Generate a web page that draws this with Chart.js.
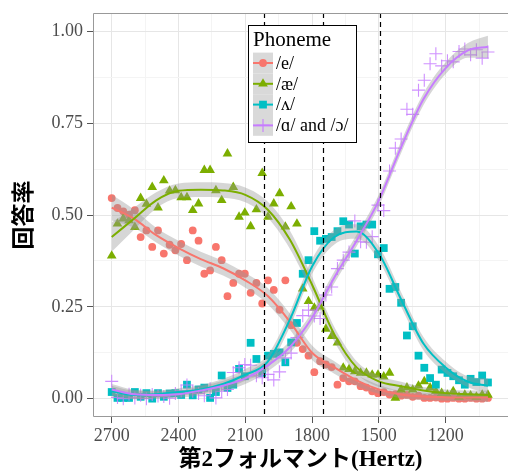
<!DOCTYPE html>
<html>
<head>
<meta charset="utf-8">
<script src="https://cdn.jsdelivr.net/npm/chart.js@4"></script>
<style>
  body { margin: 0; background: #fff; }
  #caja { width: 508px; height: 476px; }
</style>
</head>
<body>
<div id="caja"><canvas id="grafica" width="508" height="476"></canvas></div>
<script>
// estímulos: segundo formante (Hz)
const hz = [2700, 2674, 2648, 2622, 2596, 2570, 2544, 2518, 2492, 2466,
  2440, 2414, 2388, 2362, 2336, 2310, 2284, 2258, 2232, 2206,
  2180, 2154, 2128, 2102, 2076, 2050, 2024, 1998, 1972, 1946,
  1920, 1894, 1868, 1842, 1816, 1790, 1764, 1738, 1712, 1686,
  1660, 1634, 1608, 1582, 1556, 1530, 1504, 1478, 1452, 1426,
  1400, 1374, 1348, 1322, 1296, 1270, 1244, 1218, 1192, 1166,
  1140, 1114, 1088, 1062, 1036, 1010];

// proporción de respuestas por fonema
const respE = [0.546, 0.519, 0.510, 0.501, 0.513, 0.440, 0.458, 0.413, 0.458, 0.395,
  0.419, 0.404, 0.421, 0.377, 0.458, 0.430, 0.340, 0.349, 0.413, 0.377,
  0.279, 0.315, 0.340, 0.340, 0.288, 0.315, 0.259, 0.322, 0.296, 0.242,
  0.322, 0.200, 0.152, 0.135, 0.117, 0.072, 0.102, 0.093, 0.086, 0.038,
  0.056, 0.047, 0.047, 0.034, 0.030, 0.020, 0.015, 0.018, 0.011, 0.012,
  0.008, 0.010, 0.005, 0.008, 0.002, 0.002, 0.003, 0.000, 0.000, 0.002,
  0.000, 0.000, 0.002, 0.000, 0.000, 0.002];
const respAE = [0.389, 0.476, 0.490, 0.485, 0.467, 0.546, 0.530, 0.576, 0.520, 0.594,
  0.566, 0.567, 0.548, 0.548, 0.513, 0.531, 0.622, 0.622, 0.567, 0.540,
  0.667, 0.576, 0.495, 0.506, 0.469, 0.515, 0.614, 0.495, 0.531, 0.559,
  0.468, 0.523, 0.476, 0.299, 0.265, 0.247, 0.250, 0.190, 0.170, 0.152,
  0.084, 0.080, 0.074, 0.070, 0.070, 0.065, 0.065, 0.060, 0.070, 0.002,
  0.024, 0.030, 0.024, 0.035, 0.047, 0.030, 0.020, 0.015, 0.010, 0.020,
  0.005, 0.010, 0.008, 0.005, 0.010, 0.010];
const respV = [0.018, 0.002, 0.002, 0.002, 0.018, 0.005, 0.015, 0.000, 0.015, 0.005,
  0.014, 0.015, 0.010, 0.038, 0.009, 0.025, 0.030, 0.002, 0.018, 0.063,
  0.029, 0.038, 0.081, 0.061, 0.152, 0.108, 0.070, 0.117, 0.122, 0.126,
  0.099, 0.153, 0.206, 0.340, 0.377, 0.456, 0.430, 0.435, 0.440, 0.456,
  0.483, 0.474, 0.395, 0.469, 0.474, 0.474, 0.393, 0.410, 0.299, 0.304,
  0.261, 0.172, 0.197, 0.117, 0.084, 0.056, 0.038, 0.079, 0.070, 0.061,
  0.050, 0.038, 0.054, 0.045, 0.063, 0.044];
const respA = [0.047, 0.003, 0.000, 0.012, 0.002, 0.009, 0.000, 0.011, 0.007, 0.006,
  0.001, 0.014, 0.021, 0.037, 0.020, 0.014, 0.008, 0.027, 0.002, 0.020,
  0.025, 0.071, 0.084, 0.093, 0.091, 0.062, 0.057, 0.066, 0.051, 0.073,
  0.111, 0.124, 0.166, 0.226, 0.241, 0.225, 0.218, 0.282, 0.304, 0.354,
  0.377, 0.399, 0.484, 0.427, 0.426, 0.441, 0.527, 0.512, 0.620, 0.682,
  0.707, 0.788, 0.774, 0.840, 0.867, 0.912, 0.939, 0.906, 0.920, 0.917,
  0.945, 0.952, 0.936, 0.950, 0.927, 0.944];

// curvas suavizadas (loess) y su error
const hzAjuste = [2700, 2600, 2500, 2400, 2300, 2200, 2100, 2000, 1900, 1800,
  1700, 1600, 1500, 1400, 1300, 1200, 1100, 1010];
const ajusteE = [0.52, 0.49, 0.445, 0.41, 0.38, 0.355, 0.322, 0.28, 0.21, 0.125,
  0.085, 0.05, 0.025, 0.011, 0.006, 0.004, 0.003, 0.003];
const ajusteAE = [0.44, 0.49, 0.54, 0.566, 0.569, 0.567, 0.555, 0.515, 0.433, 0.31,
  0.175, 0.085, 0.047, 0.034, 0.022, 0.015, 0.012, 0.01];
const ajusteV = [0.02, 0.01, 0.012, 0.018, 0.025, 0.04, 0.065, 0.1, 0.215, 0.36,
  0.44, 0.455, 0.395, 0.27, 0.15, 0.085, 0.046, 0.035];
const ajusteA = [0.025, 0.012, 0.01, 0.012, 0.022, 0.035, 0.055, 0.09, 0.14, 0.22,
  0.33, 0.43, 0.54, 0.685, 0.815, 0.9, 0.948, 0.958];
const errorE = [0.035, 0.025, 0.02, 0.02, 0.02, 0.02, 0.02, 0.022, 0.022, 0.02,
  0.017, 0.015, 0.012, 0.01, 0.01, 0.01, 0.01, 0.012];
const errorAE = [0.04, 0.03, 0.022, 0.02, 0.02, 0.02, 0.02, 0.022, 0.025, 0.022,
  0.02, 0.017, 0.015, 0.012, 0.01, 0.01, 0.01, 0.012];
const errorV = [0.015, 0.012, 0.01, 0.01, 0.012, 0.014, 0.016, 0.018, 0.02, 0.02,
  0.02, 0.02, 0.02, 0.02, 0.018, 0.016, 0.015, 0.02];
const errorA = [0.015, 0.012, 0.01, 0.01, 0.012, 0.014, 0.015, 0.016, 0.016, 0.016,
  0.016, 0.016, 0.016, 0.016, 0.016, 0.016, 0.02, 0.03];

// límites de categoría (líneas discontinuas)
const limites = [2018, 1753, 1497];

// ejes
const xMayores = [2700, 2400, 2100, 1800, 1500, 1200];
const xMenores = [2550, 2250, 1950, 1650, 1350, 1050];
const yMayores = [0, 0.25, 0.5, 0.75, 1];
const yMenores = [0.125, 0.375, 0.625, 0.875];

const serif = "'Liberation Serif', 'DejaVu Serif', serif";
const titulo = "'Liberation Serif', 'Noto Sans CJK JP', sans-serif";

const series = [
  { nombre: "/e/", color: "#F8766D", resp: respE, ajuste: ajusteE, error: errorE, estilo: "circle", radio: 3.9 },
  { nombre: "/æ/", color: "#7CAE00", resp: respAE, ajuste: ajusteAE, error: errorAE, estilo: "triangle", radio: 5.6 },
  { nombre: "/ʌ/", color: "#00BFC4", resp: respV, ajuste: ajusteV, error: errorV, estilo: "rect", radio: 5.5 },
  { nombre: "/ɑ/ and /ɔ/", color: "#C77CFF", resp: respA, ajuste: ajusteA, error: errorA, estilo: "cross", radio: 6.5 }
];

const datasets = [];
series.forEach((s, i) => {
  datasets.push({
    type: "scatter",
    data: hz.map((x, k) => ({ x: x, y: s.resp[k] })),
    pointStyle: s.estilo,
    pointRadius: s.radio,
    backgroundColor: s.color,
    borderColor: s.estilo === "cross" ? "rgba(199,124,255,0.85)" : s.color,
    borderWidth: s.estilo === "cross" ? 1.1 : 0,
    order: 30 - i
  });
  datasets.push({
    type: "line",
    data: hzAjuste.map((x, k) => ({ x: x, y: s.ajuste[k] + s.error[k] })),
    borderColor: "rgba(0,0,0,0)",
    borderWidth: 0,
    pointRadius: 0,
    cubicInterpolationMode: "monotone",
    backgroundColor: "rgba(153,153,153,0.4)",
    fill: "+1",
    order: 20 - i
  });
  datasets.push({
    type: "line",
    data: hzAjuste.map((x, k) => ({ x: x, y: s.ajuste[k] - s.error[k] })),
    borderColor: "rgba(0,0,0,0)",
    borderWidth: 0,
    pointRadius: 0,
    cubicInterpolationMode: "monotone",
    fill: false,
    order: 20 - i
  });
  datasets.push({
    type: "line",
    data: hzAjuste.map((x, k) => ({ x: x, y: s.ajuste[k] })),
    borderColor: s.color,
    borderWidth: 2,
    pointRadius: 0,
    cubicInterpolationMode: "monotone",
    fill: false,
    order: 10 - i
  });
});

function dibujarSimbolo(ctx, s, x, y) {
  const r = s.radio;
  ctx.fillStyle = s.color;
  ctx.strokeStyle = s.color;
  ctx.beginPath();
  if (s.estilo === "circle") {
    ctx.arc(x, y, r, 0, Math.PI * 2);
    ctx.fill();
  } else if (s.estilo === "triangle") {
    ctx.moveTo(x, y - r);
    ctx.lineTo(x + r * 0.866, y + r * 0.5);
    ctx.lineTo(x - r * 0.866, y + r * 0.5);
    ctx.closePath();
    ctx.fill();
  } else if (s.estilo === "rect") {
    const l = r * Math.SQRT1_2;
    ctx.rect(x - l, y - l, 2 * l, 2 * l);
    ctx.fill();
  } else {
    ctx.lineWidth = 1.1;
    ctx.moveTo(x - r, y); ctx.lineTo(x + r, y);
    ctx.moveTo(x, y - r); ctx.lineTo(x, y + r);
    ctx.stroke();
  }
}

// borde del panel, líneas discontinuas y leyenda
const extras = {
  id: "extras",
  afterDatasetsDraw(chart) {
    const { ctx, chartArea, scales } = chart;
    ctx.save();
    ctx.strokeStyle = "#000";
    ctx.lineWidth = 1.2;
    ctx.setLineDash([5, 4]);
    limites.forEach(v => {
      const px = Math.round(scales.x.getPixelForValue(v)) + 0.5;
      ctx.beginPath();
      ctx.moveTo(px, chartArea.top);
      ctx.lineTo(px, chartArea.bottom);
      ctx.stroke();
    });
    ctx.setLineDash([]);
    // el borde derecho queda fuera del recorte
    ctx.strokeStyle = "#999";
    ctx.lineWidth = 1;
    ctx.beginPath();
    ctx.moveTo(chartArea.right, chartArea.top + 0.5);
    ctx.lineTo(chartArea.left + 0.5, chartArea.top + 0.5);
    ctx.lineTo(chartArea.left + 0.5, chartArea.bottom - 0.5);
    ctx.lineTo(chartArea.right, chartArea.bottom - 0.5);
    ctx.stroke();
    ctx.restore();
  },
  afterDraw(chart) {
    const ctx = chart.ctx;
    const bx = 248, by = 25, bw = 108, bh = 117;
    ctx.save();
    ctx.fillStyle = "#fff";
    ctx.fillRect(bx, by, bw, bh);
    ctx.strokeStyle = "#000";
    ctx.lineWidth = 1;
    ctx.strokeRect(bx + 0.5, by + 0.5, bw, bh);
    ctx.fillStyle = "#000";
    ctx.font = "21px " + serif;
    ctx.textBaseline = "middle";
    ctx.fillText("Phoneme", 253, 40);
    series.forEach((s, i) => {
      const cy = 63 + i * 20.8;
      ctx.fillStyle = "#d9d9d9";
      ctx.fillRect(253, cy - 10.4, 20, 20.8);
      ctx.strokeStyle = s.color;
      ctx.lineWidth = 2;
      ctx.beginPath();
      ctx.moveTo(253, cy);
      ctx.lineTo(273, cy);
      ctx.stroke();
      dibujarSimbolo(ctx, s, 263, cy);
      ctx.fillStyle = "#000";
      ctx.font = "18px " + serif;
      ctx.fillText(s.nombre, 276, cy + 1);
    });
    ctx.restore();
  }
};

const colorRejilla = (mayores) => (c) =>
  c.tick && mayores.includes(c.tick.value) ? "#e6e6e6" : "#f4f4f4";
const colorMarca = (mayores) => (c) =>
  c.tick && mayores.includes(c.tick.value) ? "#555" : "rgba(0,0,0,0)";

new Chart(document.getElementById("grafica"), {
  data: { datasets: datasets },
  options: {
    responsive: false,
    animation: false,
    events: [],
    layout: { autoPadding: false, padding: { top: 13, right: 0, left: 0, bottom: 0 } },
    plugins: { legend: { display: false }, tooltip: { enabled: false } },
    scales: {
      x: {
        type: "linear",
        reverse: true,
        min: 920,
        max: 2784,
        afterBuildTicks: (s) => {
          s.ticks = xMayores.concat(xMenores).sort((a, b) => a - b).map(v => ({ value: v }));
        },
        afterFit: (s) => { s.height = 59; s.paddingLeft = 0; s.paddingRight = 0; },
        ticks: {
          autoSkip: false,
          maxRotation: 0,
          padding: 2,
          color: "#4d4d4d",
          font: { family: serif, size: 18 },
          callback: (v) => xMayores.includes(v) ? String(v) : ""
        },
        grid: { color: colorRejilla(xMayores), tickColor: colorMarca(xMayores), tickLength: 6, lineWidth: 1 },
        border: { display: false },
        title: {
          display: true,
          text: "第2フォルマント(Hertz)",
          color: "#000",
          font: { family: titulo, size: 23, weight: "bold" },
          padding: { top: 0, bottom: 2 }
        }
      },
      y: {
        type: "linear",
        min: -0.05,
        max: 1.05,
        afterBuildTicks: (s) => {
          s.ticks = yMayores.concat(yMenores).sort((a, b) => a - b).map(v => ({ value: v }));
        },
        afterFit: (s) => { s.width = 93; s.paddingTop = 0; s.paddingBottom = 0; },
        ticks: {
          autoSkip: false,
          padding: 4,
          color: "#4d4d4d",
          font: { family: serif, size: 18 },
          callback: (v) => yMayores.includes(v) ? v.toFixed(2) : ""
        },
        grid: { color: colorRejilla(yMayores), tickColor: colorMarca(yMayores), tickLength: 6, lineWidth: 1 },
        border: { display: false },
        title: {
          display: true,
          text: "回答率",
          color: "#000",
          font: { family: titulo, size: 23, weight: "bold" },
          padding: { top: 11, bottom: 0 }
        }
      }
    }
  },
  plugins: [extras]
});
</script>
</body>
</html>
